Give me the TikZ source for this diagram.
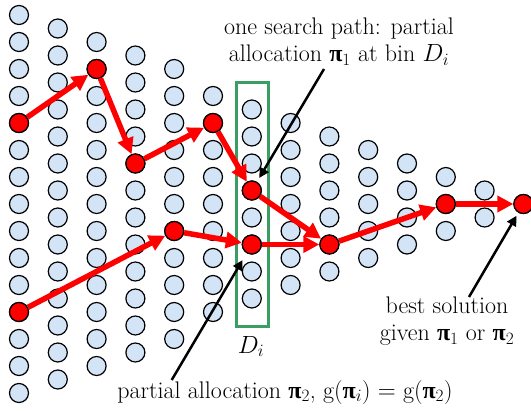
\documentclass[tikz,border=0pt]{standalone}
\usepackage{fontspec}
\newfontfamily\pifont{Liberation Serif}
\usetikzlibrary{arrows.meta}
\definecolor{cfill}{RGB}{212,228,247}
\definecolor{boxgreen}{RGB}{58,158,98}
\newcommand\bpi{{\pifont\bfseries π}}
\begin{document}
\begin{tikzpicture}[x=1pt,y=-1pt,
  dot/.style={circle,draw=black,line width=1.2pt,fill=cfill,minimum size=19pt,inner sep=0pt},
  reddot/.style={dot,fill=red},
  redarrow/.style={draw=red,line width=5.5pt,-{Triangle[length=16pt,width=16pt]}},
  blackarrow/.style={draw=black,line width=2.5pt,-{Triangle[length=10pt,width=10pt]}},
  lbl/.style={font=\fontsize{24}{27.5}\selectfont,inner sep=0pt,align=center},
  binbox/.style={draw=boxgreen,line width=3pt}]
\useasboundingbox (0,0) rectangle (531,412);
% grid of circles
\foreach \k/\n in {1/15,2/14,3/13,4/12,5/11,6/9,7/8,8/7,9/6,10/5,11/4,12/3,13/2,14/1}{
  \foreach \j in {1,...,\n}{
    \pgfmathtruncatemacro\r{15-\n+2*(\j-1)}
    \node[dot] (n\k-\r) at ({19+38.8*(\k-1)},{15+13.5*\r}) {};
  }
}
% bin box
\node[binbox,minimum width=32pt,minimum height=244pt,inner sep=0pt] (bin) at (252.5,204.5) {};
% red nodes
\node[reddot] (a1) at (n1-8) {};
\node[reddot] (a2) at (n3-4) {};
\node[reddot] (a3) at (n4-11) {};
\node[reddot] (a4) at (n6-8) {};
\node[reddot] (a5) at (n7-13) {};
\node[reddot] (a6) at (n9-17) {};
\node[reddot] (a7) at (n12-14) {};
\node[reddot] (a8) at (n14-14) {};
\node[reddot] (b1) at (n1-22) {};
\node[reddot] (b2) at (n5-16) {};
\node[reddot] (b3) at (n7-17) {};
% red paths
\draw[redarrow] (a1) -- (a2);
\draw[redarrow] (a2) -- (a3);
\draw[redarrow] (a3) -- (a4);
\draw[redarrow] (a4) -- (a5);
\draw[redarrow] (a5) -- (a6);
\draw[redarrow] (a6) -- (a7);
\draw[redarrow] (a7) -- (a8);
\draw[redarrow] (b1) -- (b2);
\draw[redarrow] (b2) -- (b3);
\draw[redarrow] (b3) -- (a6);
% labels
\node[lbl,anchor=north] (t1) at (339,17.5) {one search path: partial\\allocation \bpi$_1$ at bin $D_i$};
\node[lbl,anchor=base] (t2) at (285,398) {partial allocation \bpi$_2$, g(\bpi$_i$) $=$ g(\bpi$_2$)};
\node[lbl,anchor=north] (t3) at (447,296.5) {best solution\\given \bpi$_1$ or \bpi$_2$};
\node[lbl,anchor=base] (di) at (251,353) {$D_i$};
% pointer arrows
\coordinate (p1) at (324,69);
\coordinate (p2) at (171.7,380);
\coordinate (p3) at (469,297);
\draw[blackarrow,shorten >=4.5pt] (p1) -- (a5);
\draw[blackarrow,shorten >=8pt] (p2) -- (b3);
\draw[blackarrow,shorten >=3.5pt] (p3) -- (a8);
\end{tikzpicture}
\end{document}
